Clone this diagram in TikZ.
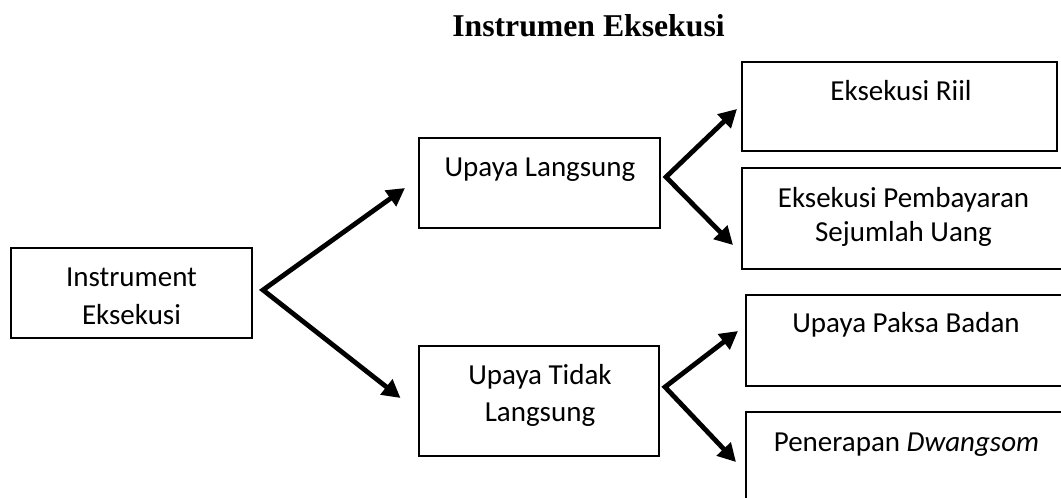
\documentclass[tikz,border=0pt]{standalone}
\usepackage{fontspec}
\setmainfont{Liberation Serif}
\newfontfamily\bodyfont{Carlito}
\usetikzlibrary{arrows.meta,fit}
\tikzset{
  box/.style={draw=black, line width=1.15pt, inner sep=0pt, fill=none},
  lbl/.style={anchor=base, inner sep=0pt, font=\bodyfont\fontsize{21.75pt}{26pt}\selectfont},
  ttl/.style={anchor=base, inner sep=0pt, font=\fontsize{23.8pt}{28pt}\selectfont\bfseries},
  arr/.style={line width=3.6pt, line join=miter, {Triangle[length=13.5pt,width=14pt]}-{Triangle[length=13.5pt,width=14pt]}}
}
\begin{document}
\begin{tikzpicture}[x=0.75pt,y=-0.75pt]
\useasboundingbox (0,0) rectangle (1061,498);
\clip (0,0) rectangle (1061,498);
\fill[white] (0,0) rectangle (1061,498);
% title
\node[ttl] (title) at (588.5,37) {Instrumen Eksekusi};
% boxes
\node[box, fit={(11,248) (252,338)}] (b0) {};
\node[box, fit={(419,138) (660,228)}] (b1) {};
\node[box, fit={(742,62) (1057,151)}] (b2) {};
\node[box, fit={(742,168) (1066,269)}] (b3) {};
\node[box, fit={(419,346) (659,456)}] (b4) {};
\node[box, fit={(746,295) (1066,386)}] (b5) {};
\node[box, fit={(746,412) (1066,512)}] (b6) {};
% texts
\node[lbl] (t0a) at (131.5,287) {Instrument};
\node[lbl] (t0b) at (131.5,325) {Eksekusi};
\node[lbl] (t1) at (540,177) {Upaya Langsung};
\node[lbl] (t2) at (901,101) {Eksekusi Riil};
\node[lbl] (t3a) at (903.5,208) {Eksekusi Pembayaran};
\node[lbl] (t3b) at (903.5,242) {Sejumlah Uang};
\node[lbl] (t4a) at (540,385) {Upaya Tidak};
\node[lbl] (t4b) at (540,422) {Langsung};
\node[lbl] (t5) at (906,333) {Upaya Paksa Badan};
\node[lbl] (t6) at (906.5,452) {Penerapan \textit{Dwangsom}};
% connector points
\coordinate (va) at (263,290);
\coordinate (a1) at (405,188);
\coordinate (a2) at (400.5,398);
\coordinate (vb) at (666,177);
\coordinate (b1t) at (737,109);
\coordinate (b2t) at (733,245);
\coordinate (vc) at (665,387);
\coordinate (c1t) at (738,331);
\coordinate (c2t) at (736,462);
\draw[arr] (a1) -- (va) -- (a2);
\draw[arr] (b1t) -- (vb) -- (b2t);
\draw[arr] (c1t) -- (vc) -- (c2t);
\end{tikzpicture}
\end{document}
